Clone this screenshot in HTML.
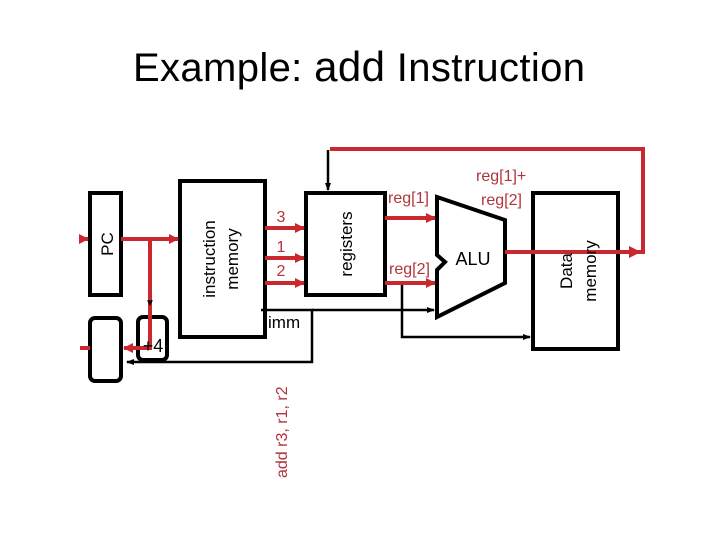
<!DOCTYPE html>
<html><head><style>
body{margin:0;background:#fff}
svg text{font-family:"Liberation Sans",sans-serif}
</style></head><body>
<svg width="720" height="540" xmlns="http://www.w3.org/2000/svg">
<defs>
<marker id="ra" markerWidth="10" markerHeight="10" refX="9" refY="5" orient="auto" markerUnits="userSpaceOnUse"><path d="M0,0 L10,5 L0,10z" fill="#c8282e"/></marker>
<marker id="rab" markerWidth="12" markerHeight="12" refX="11" refY="6" orient="auto" markerUnits="userSpaceOnUse"><path d="M0,0 L12,6 L0,12z" fill="#c8282e"/></marker>
<marker id="ka" markerWidth="8" markerHeight="8" refX="7" refY="4" orient="auto" markerUnits="userSpaceOnUse"><path d="M0,1 L8,4 L0,7z" fill="#000"/></marker>
</defs>
<text x="133" y="81" font-size="40" fill="#000" textLength="452" lengthAdjust="spacing">Example: <tspan font-size="42">add</tspan> Instruction</text>
<g fill="none" stroke="#000" stroke-width="4">
<rect x="90" y="193" width="31" height="102"/>
<rect x="180" y="181" width="85" height="156"/>
<rect x="306" y="193" width="79" height="102"/>
<rect x="533" y="193" width="85" height="156"/>
<rect x="90" y="318" width="31" height="63" rx="5"/>
<rect x="138" y="317" width="29" height="43" rx="5"/>
<path d="M437,197 L505,220 L505,283 L437,317 L437,270 L445,262 L437,255 Z"/>
</g>
<g fill="none" stroke="#000" stroke-width="2.5">
<path d="M261,310 H312 V362 H127" marker-end="url(#ka)"/>
<path d="M312,310 H434" marker-end="url(#ka)"/>
<path d="M402,283 V337 H530" marker-end="url(#ka)"/>
<path d="M328,150 V190" marker-end="url(#ka)"/>
</g>
<g fill="none" stroke="#c8282e" stroke-width="4">
<path d="M330,149 H643 V252 H505"/>
<path d="M505,252 H640" marker-end="url(#rab)"/>
<path d="M121,239 H178" marker-end="url(#ra)"/>
<path d="M150,239 V348 H124" marker-end="url(#ra)"/>
<path d="M90,348 H80"/>
<path d="M80,239 H88" marker-end="url(#ra)"/>
<path d="M265,228 H304" marker-end="url(#ra)"/>
<path d="M265,258 H304" marker-end="url(#ra)"/>
<path d="M265,283 H304" marker-end="url(#ra)"/>
<path d="M385,218 H435" marker-end="url(#ra)"/>
<path d="M385,283 H435" marker-end="url(#ra)"/>
</g>
<text x="150" y="306" font-size="10" text-anchor="middle">▼</text>
<text transform="translate(113,244) rotate(-90)" font-size="17" text-anchor="middle">PC</text>
<text transform="translate(215,259) rotate(-90)" font-size="17" text-anchor="middle">instruction</text>
<text transform="translate(238,259) rotate(-90)" font-size="17" text-anchor="middle">memory</text>
<text transform="translate(352,244) rotate(-90)" font-size="17" text-anchor="middle">registers</text>
<text transform="translate(572,271) rotate(-90)" font-size="17" text-anchor="middle">Data</text>
<text transform="translate(596,271) rotate(-90)" font-size="17" text-anchor="middle">memory</text>
<text x="153" y="352" font-size="18" text-anchor="middle">+4</text>
<text x="268" y="328" font-size="17">imm</text>
<text x="473" y="265" font-size="18" text-anchor="middle">ALU</text>
<g fill="#b3333a" font-size="16">
<text x="281" y="222" text-anchor="middle">3</text>
<text x="281" y="252" text-anchor="middle">1</text>
<text x="281" y="276" text-anchor="middle">2</text>
<text x="388" y="203">reg[1]</text>
<text x="389" y="274">reg[2]</text>
<text x="476" y="181">reg[1]+</text>
<text x="481" y="205">reg[2]</text>
<text transform="translate(287,478) rotate(-90)" font-size="16">add r3, r1, r2</text>
</g>
</svg>
</body></html>
